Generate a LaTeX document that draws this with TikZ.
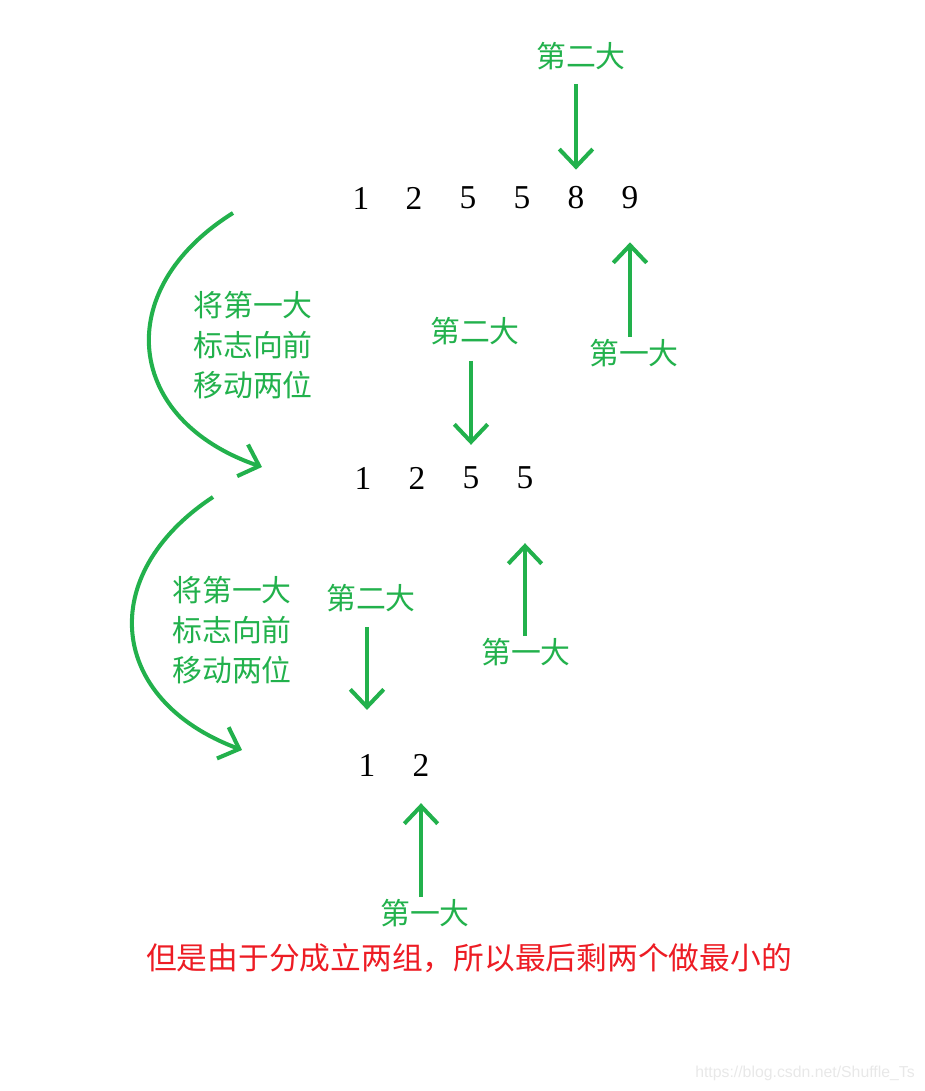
\documentclass[tikz,border=0pt]{standalone}
\usepackage{fontspec}
\usepackage{tikz}
\usetikzlibrary{arrows.meta,positioning,calc}
\newfontfamily\cjk{Noto Sans CJK SC}
\newfontfamily\wmfont{Liberation Sans}
\newfontfamily\digfont{Liberation Serif}
\definecolor{paintgreen}{RGB}{34,177,76}
\definecolor{paintred}{RGB}{237,28,36}
\tikzset{
  num/.style={font=\digfont\fontsize{19}{19}\selectfont, inner sep=1pt},
  lbl/.style={font=\cjk\fontsize{17}{17}\selectfont, text=paintgreen, inner sep=1pt},
  note/.style={lbl, align=left, font=\cjk\fontsize{17}{22.7}\selectfont},
  arr/.style={paintgreen, line width=2.3pt, -{Straight Barb[length=10pt,width=19pt,line width=2.3pt]}},
}

\begin{document}
\begin{tikzpicture}[x=0.02cm,y=-0.02cm]
                    \useasboundingbox (0,0) rectangle (925,1091);
                    % first row
                    \node[num] (a1) at (361,198) {1};
                    \node[num] (a2) at (414,198) {2};
                    \node[num] (a3) at (468,198) {5};
                    \node[num] (a4) at (522,198) {5};
                    \node[num] (a5) at (576,198) {8};
                    \node[num] (a6) at (630,198) {9};
                    \node[lbl] (sec1) at (581,56) {第二大};
                    \node[lbl] (fst1) at (634,353) {第一大};
                    \draw[arr,shorten <=0.24cm,shorten >=0.3cm] (a5 |- sec1.south) -- (a5.north);
                    \draw[arr,shorten >=0.62cm] (a6 |- fst1.north) -- (a6.south);
                    % second row
                    \node[num] (b1) at (363,478) {1};
                    \node[num] (b2) at (417,478) {2};
                    \node[num] (b3) at (471,478) {5};
                    \node[num] (b4) at (525,478) {5};
                    \node[lbl] (sec2) at (475,331) {第二大};
                    \node[lbl] (fst2) at (526,652) {第一大};
                    \draw[arr,shorten <=0.28cm,shorten >=0.4cm] (b3 |- sec2.south) -- (b3.north);
                    \draw[arr,shorten >=1.04cm] (b4 |- fst2.north) -- (b4.south);
                    % third row
                    \node[num] (c1) at (367,765) {1};
                    \node[num] (c2) at (421,765) {2};
                    \node[lbl] (sec3) at (371,598) {第二大};
                    \node[lbl] (fst3) at (425,913) {第一大};
                    \draw[arr,shorten <=0.26cm,shorten >=0.84cm] (c1 |- sec3.south) -- (c1.north);
                    \draw[arr,shorten >=0.5cm] (c2 |- fst3.north) -- (c2.south);
                    % moving the mark
                    \node[note] (move1) at (253,345) {将第一大\\标志向前\\移动两位};
                    \node[note] (move2) at (232,630) {将第一大\\标志向前\\移动两位};
                    \coordinate (m1s) at (233,213);
                    \coordinate (m1e) at (262,467);
                    \coordinate (m2s) at (213,497);
                    \coordinate (m2e) at (242,750);
                    \draw[arr] (m1s) .. controls (110,290) and (125,420) .. (m1e);
                    \draw[arr] (m2s) .. controls (95,575) and (108,700) .. (m2e);
                    % remark
                    \node[font=\cjk\fontsize{17.5}{17.5}\selectfont, text=paintred, inner sep=1pt] (remark) at (469,958) {但是由于分成立两组，所以最后剩两个做最小的};
                    \node[font=\wmfont\fontsize{9}{9}\selectfont, text=black!9, inner sep=0pt] (wm) at (805,1073) {https://blog.csdn.net/Shuffle\_Ts};
                \end{tikzpicture}
\end{document}
